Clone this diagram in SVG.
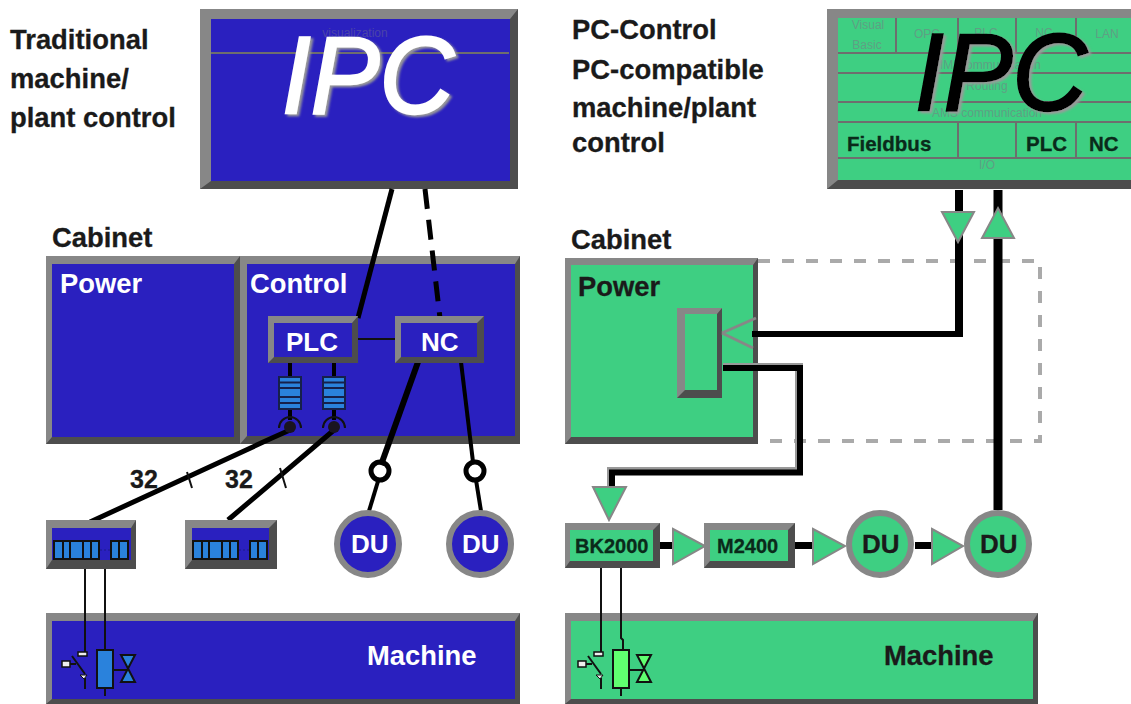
<svg xmlns="http://www.w3.org/2000/svg" width="1131" height="704" viewBox="0 0 1131 704">
<style>
text{font-family:"Liberation Sans",Arial,sans-serif}
.b{font-weight:bold;font-size:27.4px;fill:#1a1a1a;stroke:#1a1a1a;stroke-width:.3}
.w{font-weight:bold;font-size:27.4px;fill:#fff}
.n{font-size:26px}
.k{font-weight:bold;fill:#0a2a1a;font-size:20.5px;stroke:#0a2a1a;stroke-width:.3}
.big{font-style:italic;font-size:110px;stroke-width:2.5px}
.sm{font-size:12px;fill:#5f9f84;text-anchor:middle}
.lt{fill:#878787}
.dk{fill:#4d4d4d}
.blue{fill:#2a20bf}
.green{fill:#3ecf82}
.cell{fill:none;stroke:#6e6e6e;stroke-width:2}
.w8{fill:none;stroke:#000;stroke-width:8}
.w7{fill:none;stroke:#000;stroke-width:7}
.w6{fill:none;stroke:#000;stroke-width:6}
.w5{fill:none;stroke:#000;stroke-width:5}
.w4{fill:none;stroke:#000;stroke-width:4}
.w2{fill:none;stroke:#111;stroke-width:2}
.edge{fill:none;stroke:#999;stroke-width:8}
.ring{fill:none;stroke:#000;stroke-width:5}
.tri{fill:#3ecf82;stroke:#878787;stroke-width:2}
.seg{fill:#2a82dc;stroke:#111;stroke-width:2}
.ln{stroke:#111;stroke-width:2;fill:none}
</style>
<defs>
<filter id="sh" x="-10%" y="-10%" width="120%" height="120%"><feDropShadow dx="2.5" dy="2" stdDeviation="0.8" flood-color="#9a9a9a"/></filter>
<g id="stack"><rect x="-11" y="0" width="22" height="32" fill="#2a82dc" stroke="#16204a" stroke-width="2"/><path d="M-11 5.500H11M-11 11H11M-11 20H11M-11 26H11" stroke="#16204a" stroke-width="2"/></g>
<g id="mod"><rect x="0" y="0" width="45" height="18" class="seg"/><path d="M9 0V18M16 0V18M29 0V18M37 0V18" class="ln"/><path d="M46 9H56" stroke="#1a1a8a" stroke-width="1" stroke-dasharray="2 2"/><rect x="57" y="0" width="17" height="18" class="seg"/><path d="M65 0V18" class="ln"/></g>
<g id="sym"><rect x="78" y="652" width="9" height="4" fill="#eee" stroke="#111" stroke-width="1.500"/><rect x="62" y="661" width="8" height="6" fill="#eee" stroke="#111" stroke-width="1.500"/><path d="M70 664H76M72 656L85 674M85 678V689" class="ln"/><path d="M80 675H87L84 679Z" fill="#eee" stroke="#111"/><path d="M105 688V696M113 670H128" class="ln"/></g>
</defs>
<g id="label-traditional"><text class="b" x="10" y="49">Traditional</text><text class="b" x="10" y="88">machine/</text><text class="b" x="10" y="127">plant control</text></g>
<g id="label-pc"><text class="b" x="572" y="39">PC-Control</text><text class="b" x="572" y="79">PC-compatible</text><text class="b" x="572" y="117">machine/plant</text><text class="b" x="572" y="152">control</text></g>
<g id="ipc-left">
<rect x="200" y="9" width="318" height="180" class="lt"/>
<path d="M518 9V189H200L211 181H510V19Z" class="dk"/>
<rect x="211" y="19" width="299" height="162" class="blue"/>
<path d="M211 53H509" class="cell"/>
<text x="355" y="37" class="sm" style="fill:#4a44a8">visualization</text>
<text x="282" y="113" class="big" fill="#fff" stroke="#fff" textLength="172" lengthAdjust="spacingAndGlyphs" filter="url(#sh)">IPC</text>
</g>
<g id="ipc-right">
<rect x="827" y="9" width="304" height="180" class="lt"/>
<path d="M827 189L838 180H1131V189Z" class="dk"/>
<rect x="838" y="18" width="293" height="162" class="green"/>
<path d="M838 53H1131M838 73H1131M838 102H1131M838 122H1131M838 158H1131M896 18V53M958 18V53M1016 18V53M1076 18V53M958 122V158M1016 122V158M1076 122V158" class="cell"/>
<text x="868" y="29" class="sm">Visual</text><text x="867" y="49" class="sm">Basic</text>
<text x="927" y="38" class="sm">OPC</text><text x="986" y="37" class="sm">PLC</text><text x="1044" y="37" class="sm">NC</text><text x="1107" y="38" class="sm">LAN</text>
<text x="987" y="69" class="sm">MMI communication</text><text x="987" y="90" class="sm">Routing</text><text x="987" y="117" class="sm">AMS communication</text><text x="987" y="169" class="sm">I/O</text>
<text class="k" x="847" y="151">Fieldbus</text><text class="k" x="1026" y="151">PLC</text><text class="k" x="1089" y="151">NC</text>
<text x="915" y="110" class="big" fill="#000" stroke="#000" textLength="172" lengthAdjust="spacingAndGlyphs" filter="url(#sh)">IPC</text>
</g>
<g id="cabinet-left">
<text class="b" x="52" y="247">Cabinet</text>
<rect x="46" y="256" width="194" height="188" class="lt"/><path d="M240 256V444H46L52 437H234V264Z" class="dk"/><rect x="52" y="264" width="182" height="173" class="blue"/>
<text class="w" x="60" y="293">Power</text>
<rect x="240" y="256" width="280" height="188" class="lt"/><path d="M520 256V444H240L247 436H515V264Z" class="dk"/><rect x="247" y="264" width="268" height="172" class="blue"/>
<text class="w" x="250" y="293">Control</text>
</g>
<g id="cabinet-right">
<text class="b" x="571" y="249">Cabinet</text>
<path d="M758 261H1040V441H758" fill="none" stroke="#aaa" stroke-width="4" stroke-dasharray="12 12"/>
<rect x="565" y="258" width="193" height="186" class="lt"/><path d="M758 258V444H565L571 437H753V265Z" class="dk"/><rect x="571" y="265" width="182" height="172" class="green"/>
<text class="b" x="578" y="296">Power</text>
<rect x="677" y="308" width="45" height="90" class="lt"/><path d="M722 308V398H677L685 390H717V314Z" class="dk"/><rect x="685" y="314" width="32" height="76" class="green"/>
<path d="M722 333L756 318M722 333L753 348" stroke="#878787" stroke-width="3" fill="none"/>
</g>
<g id="machine-left"><rect x="46" y="613" width="474" height="91" class="lt"/><path d="M520 613V704H46L52 699H515V621Z" class="dk"/><rect x="52" y="621" width="463" height="78" class="blue"/><text class="w" x="367" y="665">Machine</text></g>
<g id="machine-right"><rect x="565" y="613" width="473" height="91" class="lt"/><path d="M1038 613V704H565L571 699H1033V621Z" class="dk"/><rect x="571" y="621" width="462" height="78" class="green"/><text class="b" x="884" y="665">Machine</text></g>
<g id="connectors">
<path d="M392 189L358 318" class="w5"/>
<path d="M425 189L440 318" class="w5" stroke-dasharray="20 11"/>
<path d="M357 339H396" class="w2"/>
<path d="M290 362V378M334 362V378M290 408V420M334 408V420" class="w4"/>
<path d="M290 430L272 438L90 522M334 430L228 520" class="w5"/>
<path d="M187 472L192 488M280 468L286 488" class="w2"/>
<path d="M418 362L381 465" class="w6"/>
<path d="M379 478L369 511" class="w4"/>
<path d="M461 362L473 462" class="w4"/>
<path d="M476 480L481 511" class="w4"/>
<path d="M85 568V652M105 568V650M601 568V652M621 568V638L623 640V650" class="w2"/>
<path d="M752 334H959" class="w6"/>
<path d="M959 337V190" class="w8"/>
<path d="M998 190V510" class="w8" style="stroke-width:9"/>
<path d="M723 367H799V471H611V490" class="edge"/>
<path d="M723 368H800V472.500H612V490" class="w6"/>
<path d="M660 545.500H676M795 545.500H816M915 545.500H935" class="w7"/>
</g>
<g id="plc"><rect x="268" y="316" width="90" height="47" class="lt"/><path d="M358 316V363H268L274 357H352V323Z" class="dk"/><rect x="274" y="323" width="78" height="34" class="blue"/><text class="w n" x="286" y="351">PLC</text></g>
<g id="nc"><rect x="395" y="316" width="89" height="47" class="lt"/><path d="M484 316V363H395L401 357H477V323Z" class="dk"/><rect x="401" y="323" width="76" height="34" class="blue"/><text class="w n" x="421" y="351">NC</text></g>
<g id="plugs">
<use href="#stack" x="290" y="377"/><use href="#stack" x="334" y="377"/>
<circle cx="290" cy="427" r="6" fill="#1a1420"/><circle cx="334" cy="427" r="6" fill="#1a1420"/>
<path d="M279 428A11 11 0 0 1 301 428M323 428A11 11 0 0 1 345 428" class="w2"/>
</g>
<g id="count-labels"><text class="b" x="130" y="488" style="font-size:25px">32</text><text class="b" x="225" y="488" style="font-size:25px">32</text></g>
<g id="rings"><circle cx="380" cy="471" r="9" class="ring"/><circle cx="475" cy="471" r="9" class="ring"/></g>
<g id="du-1"><circle cx="368" cy="544" r="31" class="blue" stroke="#878787" stroke-width="6"/><text class="w n" x="351" y="553">DU</text></g>
<g id="du-2"><circle cx="480" cy="544" r="31" class="blue" stroke="#878787" stroke-width="6"/><text class="w n" x="462" y="553">DU</text></g>
<g id="module-1"><rect x="46" y="520" width="90" height="49" class="lt"/><path d="M136 520V569H46L52 560H131V528Z" class="dk"/><rect x="52" y="528" width="79" height="32" class="blue"/><use href="#mod" x="54" y="541"/></g>
<g id="module-2"><rect x="185" y="520" width="92" height="49" class="lt"/><path d="M277 520V569H185L192 560H269V528Z" class="dk"/><rect x="192" y="528" width="77" height="32" class="blue"/><use href="#mod" x="193" y="541"/></g>
<g id="io-left"><use href="#sym"/><rect x="97" y="650" width="16" height="38" class="seg"/><path d="M121 655H135L121 682H135Z" class="seg"/></g>
<g id="io-right"><use href="#sym" x="516"/><rect x="613" y="650" width="16" height="38" fill="#60ff70" stroke="#111" stroke-width="2"/><path d="M637 655H651L637 682H651Z" fill="#60ff70" stroke="#111" stroke-width="2"/></g>
<g id="arrows">
<path d="M942 212H974L958 242Z" class="tri"/><path d="M982 238H1014L998 208Z" class="tri"/>
<path d="M593 487H626L609 520Z" class="tri"/>
<path d="M673 529L705 546L673 564Z" class="tri"/><path d="M813 529L845 546L813 564Z" class="tri"/><path d="M932 529L963 546L932 564Z" class="tri"/>
</g>
<g id="bk2000"><rect x="565" y="523" width="95" height="45" class="lt"/><path d="M660 523V568H565L570 561H653V530Z" class="dk"/><rect x="570" y="530" width="83" height="31" class="green"/><text class="k" x="575" y="553" style="font-size:20px">BK2000</text></g>
<g id="m2400"><rect x="704" y="523" width="91" height="45" class="lt"/><path d="M795 523V568H704L710 561H788V530Z" class="dk"/><rect x="710" y="530" width="78" height="31" class="green"/><text class="k" x="717" y="553" style="font-size:20px">M2400</text></g>
<g id="du-3"><circle cx="880" cy="544" r="31" class="green" stroke="#878787" stroke-width="6"/><text class="b n" x="862" y="553">DU</text></g>
<g id="du-4"><circle cx="998" cy="544" r="31" class="green" stroke="#878787" stroke-width="6"/><text class="b n" x="980" y="553">DU</text></g>
</svg>
